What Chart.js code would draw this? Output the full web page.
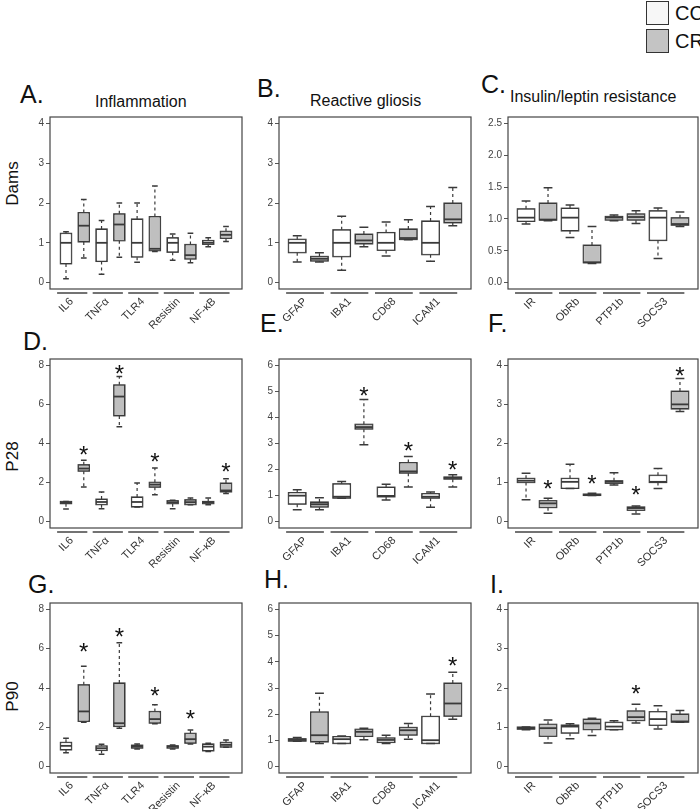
<!DOCTYPE html>
<html>
<head>
<meta charset="utf-8">
<script src="https://cdn.jsdelivr.net/npm/chart.js@4.4.1/dist/chart.umd.min.js"></script>
<style>
  body { margin: 0; background: #fff; }
  #page { position: relative; width: 700px; height: 809px; overflow: hidden; font-family: "Liberation Sans", Arial, sans-serif; color: #111; }
  canvas { position: absolute; }
  .t { position: absolute; white-space: nowrap; line-height: 1; }
  .letter { font-size: 25px; }
  .title { font-size: 16px; }
  .row { font-size: 17px; width: 60px; text-align: center; transform: rotate(-90deg); }
  .key { position: absolute; width: 21px; height: 22px; border: 1px solid #333; }
</style>
</head>
<body>
<div id="page">
  <div class="key" style="left:646px;top:1px;background:#f7f7f7"></div>
  <div class="key" style="left:646px;top:29px;background:#c4c4c4"></div>
  <div class="t" style="left:675px;top:3px;font-size:20px">CC</div>
  <div class="t" style="left:675px;top:31px;font-size:20px">CR</div>

  <div class="t letter" style="left:20px;top:82px">A.</div>
  <div class="t title" style="left:95px;top:94px">Inflammation</div>
  <div class="t letter" style="left:257px;top:76px">B.</div>
  <div class="t title" style="left:310px;top:93px">Reactive gliosis</div>
  <div class="t letter" style="left:481px;top:72px">C.</div>
  <div class="t title" style="left:510px;top:89px">Insulin/leptin resistance</div>
  <div class="t letter" style="left:23px;top:329px">D.</div>
  <div class="t letter" style="left:260px;top:311px">E.</div>
  <div class="t letter" style="left:488px;top:311px">F.</div>
  <div class="t letter" style="left:28px;top:572px">G.</div>
  <div class="t letter" style="left:264px;top:567px">H.</div>
  <div class="t letter" style="left:490px;top:572px">I.</div>

  <div class="t row" style="left:-18px;top:175px">Dams</div>
  <div class="t row" style="left:-18px;top:448px">P28</div>
  <div class="t row" style="left:-18px;top:688px">P90</div>
</div>
<script>
// genes per column, each gene has a CC box then a CR box
const inflammationGenes = ['IL6', 'TNF\u03b1', 'TLR4', 'Resistin', 'NF-\u03baB'];
const gliosisGenes = ['GFAP', 'IBA1', 'CD68', 'ICAM1'];
const insulinGenes = ['IR', 'ObRb', 'PTP1b', 'SOCS3'];
const groups = ['CC', 'CR'];

const ticks0to4 = [0, 1, 2, 3, 4];
const ticks0to6 = [0, 1, 2, 3, 4, 5, 6];
const ticks0to8 = [0, 2, 4, 6, 8];
const ticks0to25 = [0, 0.5, 1.0, 1.5, 2.0, 2.5];

// A. Dams - inflammation
const aLow  = [0.10, 0.62, 0.21, 0.64, 0.51, 0.78, 0.56, 0.50, 0.90, 1.03];
const aQ1   = [0.47, 1.02, 0.53, 1.05, 0.64, 0.80, 0.76, 0.59, 0.96, 1.11];
const aMed  = [1.00, 1.43, 1.00, 1.46, 1.00, 0.85, 1.00, 0.69, 1.00, 1.20];
const aQ3   = [1.24, 1.76, 1.35, 1.73, 1.60, 1.66, 1.13, 0.96, 1.06, 1.29];
const aHigh = [1.28, 2.09, 1.56, 2.00, 2.00, 2.43, 1.22, 1.24, 1.13, 1.41];

// B. Dams - reactive gliosis
const bLow  = [0.52, 0.52, 0.31, 0.90, 0.67, 1.08, 0.54, 1.43];
const bQ1   = [0.75, 0.54, 0.65, 0.97, 0.81, 1.08, 0.70, 1.50];
const bMed  = [1.00, 0.60, 1.00, 1.06, 1.00, 1.12, 1.00, 1.59];
const bQ3   = [1.09, 0.66, 1.33, 1.22, 1.26, 1.35, 1.55, 2.00];
const bHigh = [1.18, 0.75, 1.67, 1.39, 1.52, 1.58, 1.91, 2.39];

// C. Dams - insulin/leptin resistance
const cLow  = [0.92, 0.97, 0.71, 0.30, 0.97, 0.93, 0.38, 0.88];
const cQ1   = [0.96, 0.98, 0.81, 0.31, 0.98, 0.98, 0.66, 0.90];
const cMed  = [1.02, 0.99, 1.02, 0.32, 1.02, 1.03, 1.02, 0.92];
const cQ3   = [1.16, 1.25, 1.17, 0.59, 1.04, 1.08, 1.13, 1.02];
const cHigh = [1.28, 1.49, 1.22, 0.88, 1.06, 1.13, 1.17, 1.11];

// D. P28 - inflammation
const dLow  = [0.65, 1.78, 0.67, 4.86, 0.75, 1.38, 0.67, 0.87, 0.87, 1.44];
const dQ1   = [0.92, 2.58, 0.87, 5.41, 0.75, 1.76, 0.92, 0.87, 0.92, 1.52];
const dMed  = [0.97, 2.72, 1.01, 6.40, 1.01, 1.90, 1.00, 1.00, 1.00, 1.60];
const dQ3   = [1.04, 2.92, 1.16, 7.00, 1.27, 2.02, 1.08, 1.13, 1.04, 1.98];
const dHigh = [1.04, 3.14, 1.52, 7.42, 1.98, 2.75, 1.10, 1.21, 1.21, 2.20];
const dStar = [null, 3.70, null, 7.88, null, 3.38, null, null, null, 2.84];

// E. P28 - reactive gliosis
const eLow  = [0.46, 0.46, 0.90, 2.95, 0.83, 1.33, 0.56, 1.33];
const eQ1   = [0.67, 0.56, 0.90, 3.55, 0.95, 1.86, 0.90, 1.63];
const eMed  = [1.00, 0.67, 0.96, 3.63, 0.99, 1.93, 0.96, 1.68];
const eQ3   = [1.12, 0.76, 1.46, 3.74, 1.33, 2.27, 1.08, 1.72];
const eHigh = [1.23, 0.92, 1.54, 4.69, 1.44, 2.50, 1.14, 1.80];
const eStar = [null, null, null, 5.07, null, 2.95, null, 2.23];

// F. P28 - insulin/leptin resistance
const fLow  = [0.56, 0.22, 0.85, 0.67, 0.94, 0.20, 0.85, 2.82];
const fQ1   = [1.00, 0.36, 0.85, 0.67, 0.98, 0.29, 1.00, 2.88];
const fMed  = [1.05, 0.47, 1.02, 0.68, 1.02, 0.35, 1.02, 3.00];
const fQ3   = [1.11, 0.54, 1.11, 0.71, 1.05, 0.38, 1.19, 3.34];
const fHigh = [1.24, 0.60, 1.47, 0.73, 1.25, 0.40, 1.36, 3.66];
const fStar = [null, 0.98, null, 1.13, null, 0.83, null, 3.89];

// G. P90 - inflammation
const gLow  = [0.71, 2.26, 0.63, 1.96, 0.90, 2.18, 0.90, 1.16, 0.77, 0.99];
const gQ1   = [0.85, 2.30, 0.82, 2.04, 0.94, 2.21, 0.94, 1.19, 0.80, 0.99];
const gMed  = [1.06, 2.81, 0.94, 2.21, 1.02, 2.42, 1.02, 1.40, 1.02, 1.11];
const gQ3   = [1.24, 4.17, 1.06, 4.26, 1.10, 2.81, 1.07, 1.70, 1.16, 1.24];
const gHigh = [1.45, 5.10, 1.14, 6.30, 1.16, 3.15, 1.10, 1.87, 1.19, 1.36];
const gStar = [null, 6.13, null, 6.90, null, 3.91, null, 2.72, null, null];

// H. P90 - reactive gliosis
const hLow  = [0.97, 0.88, 0.88, 1.03, 0.88, 1.05, 0.88, 1.81];
const hQ1   = [0.97, 0.94, 0.88, 1.15, 0.92, 1.20, 0.88, 1.92];
const hMed  = [1.02, 1.20, 1.05, 1.33, 1.02, 1.39, 1.01, 2.41];
const hQ3   = [1.07, 2.09, 1.15, 1.43, 1.10, 1.50, 1.92, 3.19];
const hHigh = [1.11, 2.80, 1.17, 1.47, 1.20, 1.65, 2.77, 3.60];
const hStar = [null, null, null, null, null, null, null, 4.07];

// I. P90 - insulin/leptin resistance
const iLow  = [0.94, 0.60, 0.71, 0.79, 0.94, 1.11, 0.96, 1.13];
const iQ1   = [0.95, 0.77, 0.85, 0.94, 0.94, 1.17, 1.05, 1.13];
const iMed  = [0.98, 0.98, 1.02, 1.10, 1.02, 1.26, 1.21, 1.15];
const iQ3   = [1.01, 1.08, 1.06, 1.21, 1.13, 1.42, 1.40, 1.34];
const iHigh = [1.01, 1.19, 1.09, 1.23, 1.17, 1.59, 1.55, 1.43];
const iStar = [null, null, null, null, null, 2.00, null, null];

// plot-area placement on the page
const colLeft = [50, 279, 508];
const colWidth = [192, 192, 190];
const rowTop = [117, 359, 603];
const rowHeight = [172, 169, 170];

const fillColors = { CC: '#ffffff', CR: '#bfbfbf' };
const lineColor = '#3a3a3a';

const panels = [
  { genes: inflammationGenes, low: aLow, q1: aQ1, med: aMed, q3: aQ3, high: aHigh, star: null, ticks: ticks0to4, col: 0, row: 0 },
  { genes: gliosisGenes, low: bLow, q1: bQ1, med: bMed, q3: bQ3, high: bHigh, star: null, ticks: ticks0to4, col: 1, row: 0 },
  { genes: insulinGenes, low: cLow, q1: cQ1, med: cMed, q3: cQ3, high: cHigh, star: null, ticks: ticks0to25, col: 2, row: 0, dec: 1 },
  { genes: inflammationGenes, low: dLow, q1: dQ1, med: dMed, q3: dQ3, high: dHigh, star: dStar, ticks: ticks0to8, col: 0, row: 1 },
  { genes: gliosisGenes, low: eLow, q1: eQ1, med: eMed, q3: eQ3, high: eHigh, star: eStar, ticks: ticks0to6, col: 1, row: 1 },
  { genes: insulinGenes, low: fLow, q1: fQ1, med: fMed, q3: fQ3, high: fHigh, star: fStar, ticks: ticks0to4, col: 2, row: 1 },
  { genes: inflammationGenes, low: gLow, q1: gQ1, med: gMed, q3: gQ3, high: gHigh, star: gStar, ticks: ticks0to8, col: 0, row: 2 },
  { genes: gliosisGenes, low: hLow, q1: hQ1, med: hMed, q3: hQ3, high: hHigh, star: hStar, ticks: ticks0to6, col: 1, row: 2 },
  { genes: insulinGenes, low: iLow, q1: iQ1, med: iMed, q3: iQ3, high: iHigh, star: iStar, ticks: ticks0to4, col: 2, row: 2 }
];

const PAD_L = 45, PAD_T = 10, PAD_R = 4, PAD_B = 40;

// whiskers, medians, stars, frame and gene labels
function boxExtras(p) {
  return {
    id: 'boxExtras',
    afterDatasetsDraw(chart) {
      const ctx = chart.ctx, x = chart.scales.x, y = chart.scales.y;
      const bars = chart.getDatasetMeta(0).data;
      ctx.save();
      p.med.forEach(function (m, i) {
        const cx = x.getPixelForValue(i + 1);
        const half = bars[i].width / 2;
        const cap = half / 2;
        // dashed whiskers
        ctx.strokeStyle = lineColor;
        ctx.lineWidth = 1.2;
        ctx.setLineDash([3, 3]);
        ctx.beginPath();
        ctx.moveTo(cx, y.getPixelForValue(p.q3[i]));
        ctx.lineTo(cx, y.getPixelForValue(p.high[i]));
        ctx.moveTo(cx, y.getPixelForValue(p.q1[i]));
        ctx.lineTo(cx, y.getPixelForValue(p.low[i]));
        ctx.stroke();
        ctx.setLineDash([]);
        // caps
        ctx.lineWidth = 1.5;
        ctx.beginPath();
        ctx.moveTo(cx - cap, y.getPixelForValue(p.high[i]));
        ctx.lineTo(cx + cap, y.getPixelForValue(p.high[i]));
        ctx.moveTo(cx - cap, y.getPixelForValue(p.low[i]));
        ctx.lineTo(cx + cap, y.getPixelForValue(p.low[i]));
        ctx.stroke();
        // redraw box outline over the whiskers, then median
        ctx.lineWidth = 1;
        const top = y.getPixelForValue(p.q3[i]), bot = y.getPixelForValue(p.q1[i]);
        ctx.strokeRect(cx - half, top, half * 2, bot - top);
        ctx.lineWidth = 1.8;
        ctx.beginPath();
        ctx.moveTo(cx - half, y.getPixelForValue(m));
        ctx.lineTo(cx + half, y.getPixelForValue(m));
        ctx.stroke();
        if (p.star && p.star[i] != null) {
          ctx.fillStyle = '#111';
          ctx.font = '24px "Liberation Sans", Arial, sans-serif';
          ctx.textAlign = 'center';
          ctx.textBaseline = 'alphabetic';
          ctx.fillText('*', cx, y.getPixelForValue(p.star[i]) + 14);
        }
      });
      ctx.restore();
    },
    afterDraw(chart) {
      const ctx = chart.ctx, a = chart.chartArea, x = chart.scales.x;
      ctx.save();
      ctx.strokeStyle = '#444';
      ctx.lineWidth = 1.2;
      ctx.strokeRect(a.left, a.top, a.right - a.left, a.bottom - a.top);
      ctx.fillStyle = '#333';
      ctx.font = '11px "Liberation Sans", Arial, sans-serif';
      ctx.textAlign = 'right';
      ctx.textBaseline = 'alphabetic';
      p.genes.forEach(function (g, k) {
        const first = 2 * k + 1;
        const x0 = x.getPixelForValue(first - 0.5), x1 = x.getPixelForValue(first + 1.2);
        ctx.strokeStyle = '#444';
        ctx.lineWidth = 1.5;
        ctx.beginPath();
        ctx.moveTo(x0, a.bottom + 4);
        ctx.lineTo(x1, a.bottom + 4);
        ctx.stroke();
        ctx.save();
        ctx.translate(x.getPixelForValue(first + 0.5) - 1, a.bottom + 13);
        ctx.rotate(-Math.PI / 4);
        ctx.fillText(g, 0, 0);
        ctx.restore();
      });
      ctx.restore();
    }
  };
}

const page = document.getElementById('page');

panels.forEach(function (p) {
  const n = p.genes.length * groups.length;
  const t = p.ticks;
  const span = t[t.length - 1] - t[0];
  const canvas = document.createElement('canvas');
  const w = colWidth[p.col], h = rowHeight[p.row];
  canvas.width = PAD_L + w + PAD_R;
  canvas.height = PAD_T + h + PAD_B;
  canvas.style.left = (colLeft[p.col] - PAD_L) + 'px';
  canvas.style.top = (rowTop[p.row] - PAD_T) + 'px';
  page.appendChild(canvas);

  const boxes = p.q1.map(function (v, i) { return { x: i + 1, y: [v, p.q3[i]] }; });
  const fills = p.q1.map(function (v, i) { return fillColors[groups[i % 2]]; });

  new Chart(canvas.getContext('2d'), {
    type: 'bar',
    data: {
      datasets: [{
        data: boxes,
        backgroundColor: fills,
        borderColor: lineColor,
        borderWidth: 1,
        borderSkipped: false,
        barPercentage: 0.8,
        categoryPercentage: 1
      }]
    },
    options: {
      responsive: false,
      animation: false,
      events: [],
      layout: { padding: { top: PAD_T, right: PAD_R, bottom: PAD_B, left: 0 } },
      plugins: { legend: { display: false }, tooltip: { enabled: false } },
      scales: {
        x: {
          type: 'linear',
          display: false,
          offset: false,
          bounds: 'data',
          grid: { offset: false },
          min: 0.5 - 0.04 * n,
          max: n + 0.5 + 0.04 * n
        },
        y: {
          min: t[0] - 0.04 * span,
          max: t[t.length - 1] + 0.04 * span,
          afterBuildTicks: function (s) { s.ticks = t.map(function (v) { return { value: v }; }); },
          afterFit: function (s) { s.width = PAD_L; },
          border: { display: false },
          grid: { drawOnChartArea: false, drawTicks: true, tickLength: 4, color: '#555' },
          ticks: {
            padding: 2,
            color: '#444',
            font: { family: '"Liberation Sans", Arial, sans-serif', size: 10 },
            callback: function (v) { return p.dec ? Number(v).toFixed(p.dec) : v; }
          }
        }
      }
    },
    plugins: [boxExtras(p)]
  });
});
</script>
</body>
</html>
